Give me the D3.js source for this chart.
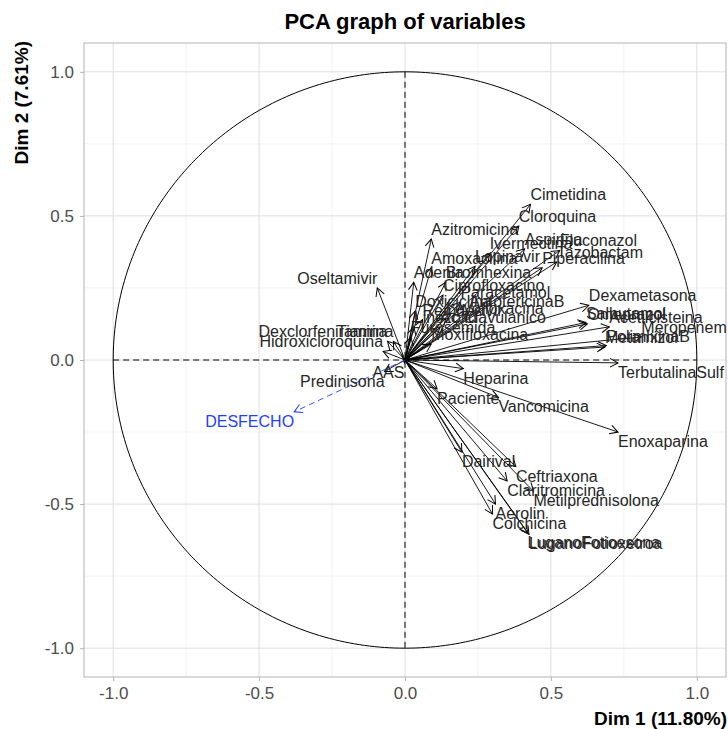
<!DOCTYPE html>
<html>
<head>
<meta charset="utf-8">
<script src="https://cdn.jsdelivr.net/npm/d3@7"></script>
<style>
    body { margin: 0; background: #fff; }
    svg { font-family: "Liberation Sans", Arial, sans-serif; }
</style>
</head>
<body>
<svg id="chart" width="728" height="729"></svg>
<script>
// active variables (coordinates on Dim 1 / Dim 2)
const varNames = [
    "Cimetidina", "Cloroquina", "Azitromicina", "Fluconazol", "Ivermectina", "Aspirina",
    "Tazobactam", "Piperacilina", "Amoxacilina", "Lopinavir", "Adenia", "Bromhexina",
    "Ciprofloxacino", "Paracetamol", "Doxiciclina", "AnfotericinaB", "Remdesivir",
    "Levofloxacina", "Linezolid", "Ac.Clavulanico", "Furosemida", "Moxifloxacina",
    "Dexametasona", "Salbutamol", "Acetilcisteina", "Meropenem", "PolimixinaB", "Omeprazol",
    "Metamizol", "TerbutalinaSulf", "Heparina", "Paciente", "Vancomicina", "Enoxaparina",
    "Dairival", "Ceftriaxona", "Claritromicina", "Metilprednisolona", "Aerolin", "Colchicina",
    "LuganoFotioesona", "LuganoFotioxetroa",
    "Oseltamivir", "Dexclorfeniramina", "Tiamina", "Hidroxicloroquina", "AAS", "Predinisona"
];
const dim1 = [
    0.43, 0.39, 0.09, 0.53, 0.29, 0.41,
    0.52, 0.47, 0.09, 0.24, 0.03, 0.14,
    0.13, 0.19, 0.035, 0.22, 0.06,
    0.14, 0.03, 0.12, 0.02, 0.09,
    0.63, 0.62, 0.70, 0.81, 0.69, 0.625,
    0.685, 0.73, 0.20, 0.11, 0.32, 0.73,
    0.195, 0.38, 0.35, 0.44, 0.31, 0.30,
    0.42, 0.425,
    -0.095, -0.06, -0.04, -0.075, -0.002, -0.07
];
const dim2 = [
    0.54, 0.465, 0.42, 0.38, 0.37, 0.385,
    0.34, 0.32, 0.32, 0.325, 0.27, 0.27,
    0.225, 0.20, 0.17, 0.17, 0.14,
    0.145, 0.115, 0.115, 0.08, 0.055,
    0.19, 0.13, 0.115, 0.08, 0.05, 0.125,
    0.045, -0.01, -0.03, -0.10, -0.13, -0.25,
    -0.32, -0.37, -0.42, -0.455, -0.50, -0.535,
    -0.60, -0.605,
    0.25, 0.065, 0.065, 0.03, -0.01, -0.04
];

// supplementary variable
const supNames = ["DESFECHO"];
const supDim1 = [-0.38];
const supDim2 = [-0.18];

const tickValues = [-1, -0.5, 0, 0.5, 1];
const minorValues = [-0.75, -0.25, 0.25, 0.75];
const dimLabels = ["Dim 1 (11.80%)", "Dim 2 (7.61%)"];
const title = "PCA graph of variables";

/** Class drawing the PCA correlation circle. */
class PcaPlot {
    constructor() {
        this.svg = d3.select("#chart");
        this.x = d3.scaleLinear().domain([-1.1, 1.1]).range([84, 726]);
        this.y = d3.scaleLinear().domain([-1.1, 1.1]).range([677, 43]);
    }

    drawFrame() {
        let x = this.x, y = this.y, svg = this.svg;

        svg.append("defs").append("clipPath").attr("id", "panel")
            .append("rect")
            .attr("x", x.range()[0]).attr("y", y.range()[1])
            .attr("width", x.range()[1] - x.range()[0])
            .attr("height", y.range()[0] - y.range()[1]);

        let grid = svg.append("g").attr("id", "grid");
        grid.selectAll("line.minorx").data(minorValues).enter().append("line")
            .attr("x1", d => x(d)).attr("x2", d => x(d))
            .attr("y1", y.range()[0]).attr("y2", y.range()[1])
            .attr("stroke", "#f0f0f0").attr("stroke-width", 0.8);
        grid.selectAll("line.minory").data(minorValues).enter().append("line")
            .attr("y1", d => y(d)).attr("y2", d => y(d))
            .attr("x1", x.range()[0]).attr("x2", x.range()[1])
            .attr("stroke", "#f0f0f0").attr("stroke-width", 0.8);
        grid.selectAll("line.majorx").data(tickValues).enter().append("line")
            .attr("x1", d => x(d)).attr("x2", d => x(d))
            .attr("y1", y.range()[0]).attr("y2", y.range()[1])
            .attr("stroke", "#dedede").attr("stroke-width", 1);
        grid.selectAll("line.majory").data(tickValues).enter().append("line")
            .attr("y1", d => y(d)).attr("y2", d => y(d))
            .attr("x1", x.range()[0]).attr("x2", x.range()[1])
            .attr("stroke", "#dedede").attr("stroke-width", 1);

        svg.append("rect")
            .attr("x", x.range()[0]).attr("y", y.range()[1])
            .attr("width", x.range()[1] - x.range()[0])
            .attr("height", y.range()[0] - y.range()[1])
            .attr("fill", "none").attr("stroke", "#b3b3b3").attr("stroke-width", 1);

        let fmt = d => d.toFixed(1);
        let xAxis = svg.append("g")
            .attr("transform", "translate(0," + y.range()[0] + ")")
            .call(d3.axisBottom(x).tickValues(tickValues).tickFormat(fmt).tickSize(4).tickPadding(6));
        let yAxis = svg.append("g")
            .attr("transform", "translate(" + x.range()[0] + ",0)")
            .call(d3.axisLeft(y).tickValues(tickValues).tickFormat(fmt).tickSize(4).tickPadding(6));
        [xAxis, yAxis].forEach(a => {
            a.select(".domain").remove();
            a.selectAll("line").attr("stroke", "#b3b3b3");
            a.selectAll("text").attr("fill", "#4d4d4d").style("font-size", "17px")
                .style("font-family", "Liberation Sans, Arial, sans-serif");
        });

        svg.append("text")
            .attr("x", (x.range()[0] + x.range()[1]) / 2).attr("y", 29)
            .attr("text-anchor", "middle")
            .style("font-size", "22px").style("font-weight", "bold")
            .text(title);

        svg.append("text")
            .attr("x", x.range()[1] + 1).attr("y", 725)
            .attr("text-anchor", "end")
            .style("font-size", "19px").style("font-weight", "bold")
            .text(dimLabels[0]);

        svg.append("text")
            .attr("transform", "translate(28," + (y.range()[1] - 2) + ") rotate(-90)")
            .attr("text-anchor", "end")
            .style("font-size", "19px").style("font-weight", "bold")
            .text(dimLabels[1]);
    }

    drawCircle() {
        let x = this.x, y = this.y;
        let plot = this.svg.append("g").attr("clip-path", "url(#panel)");
        let angles = d3.range(0, 2 * Math.PI + 0.01, Math.PI / 180);
        plot.append("path")
            .datum(angles)
            .attr("d", d3.line().x(a => x(Math.cos(a))).y(a => y(Math.sin(a))))
            .attr("fill", "none").attr("stroke", "#000").attr("stroke-width", 1);

        plot.append("line")
            .attr("x1", x(-1)).attr("x2", x(1)).attr("y1", y(0)).attr("y2", y(0))
            .attr("stroke", "#000").attr("stroke-dasharray", "6,4");
        plot.append("line")
            .attr("x1", x(0)).attr("x2", x(0)).attr("y1", y(1)).attr("y2", y(-1))
            .attr("stroke", "#000").attr("stroke-dasharray", "6,4");
        this.plot = plot;
    }

    drawArrows() {
        let x = this.x, y = this.y, plot = this.plot;
        let defs = this.svg.select("defs");
        [["head-black", "#000"], ["head-blue", "#1f3fff"]].forEach(m => {
            defs.append("marker")
                .attr("id", m[0])
                .attr("viewBox", "-10 -6 12 12")
                .attr("markerUnits", "userSpaceOnUse")
                .attr("markerWidth", 12).attr("markerHeight", 12)
                .attr("refX", 0).attr("refY", 0)
                .attr("orient", "auto")
                .append("path")
                .attr("d", "M-8,-4.4L0,0L-8,4.4")
                .attr("fill", "none").attr("stroke", m[1]).attr("stroke-width", 1);
        });

        let vars = varNames.map((n, i) => ({name: n, d1: dim1[i], d2: dim2[i]}));
        let sups = supNames.map((n, i) => ({name: n, d1: supDim1[i], d2: supDim2[i]}));

        plot.append("g").selectAll("line")
            .data(vars).enter().append("line")
            .attr("x1", x(0)).attr("y1", y(0))
            .attr("x2", d => x(d.d1)).attr("y2", d => y(d.d2))
            .attr("stroke", "#000").attr("stroke-width", 0.9)
            .attr("marker-end", "url(#head-black)");

        plot.append("g").selectAll("line")
            .data(sups).enter().append("line")
            .attr("x1", x(0)).attr("y1", y(0))
            .attr("x2", d => x(d.d1)).attr("y2", d => y(d.d2))
            .attr("stroke", "#1f3fff").attr("stroke-width", 0.9)
            .attr("stroke-dasharray", "6,4")
            .attr("marker-end", "url(#head-blue)");

        // labels sit above positive tips and below negative ones
        let label = (sel, color) => sel
            .attr("x", d => x(d.d1))
            .attr("y", d => d.d2 >= 0 ? y(d.d2) - 4 : y(d.d2) + 15)
            .attr("text-anchor", d => d.d1 >= 0 ? "start" : "end")
            .attr("fill", color)
            .style("font-size", "16px")
            .text(d => d.name);

        plot.append("g").selectAll("text")
            .data(vars).enter().append("text")
            .call(label, "#262626");
        plot.append("g").selectAll("text")
            .data(sups).enter().append("text")
            .call(label, "#1f3fff");
    }
}

let pca = new PcaPlot();
pca.drawFrame();
pca.drawCircle();
pca.drawArrows();
</script>
</body>
</html>
